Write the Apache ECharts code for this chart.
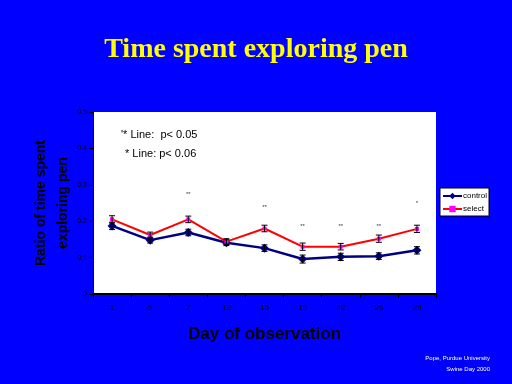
<!DOCTYPE html>
<html><head><meta charset="utf-8">
<script src="https://cdn.jsdelivr.net/npm/echarts@6/dist/echarts.min.js"></script>
<style>html,body{margin:0;padding:0;background:#0000FF;}#c{width:512px;height:384px;}</style>
</head><body><div id="c"></div>
<script>
var days = ['1','5','7','12','15','19','22','25','29'];
var yTicks = [0, 0.1, 0.2, 0.3, 0.4, 0.5];
var control = [0.187, 0.148, 0.169, 0.141, 0.126, 0.096, 0.102, 0.104, 0.120];
var controlErr = [0.010, 0.008, 0.009, 0.008, 0.009, 0.011, 0.010, 0.009, 0.010];
var select = [0.205, 0.162, 0.205, 0.144, 0.180, 0.130, 0.130, 0.152, 0.179];
var selectErr = [0.010, 0.008, 0.009, 0.008, 0.009, 0.010, 0.009, 0.010, 0.010];
var sigMarks = [[2, 0.275, '**'], [4, 0.239, '**'], [5, 0.187, '**'], [6, 0.187, '**'], [7, 0.187, '**'], [8, 0.25, '*']];

function errData(vals, errs) {
  return vals.map(function (v, i) { return [i, v - errs[i], v + errs[i]]; });
}
function errRender(params, api) {
  var x = api.value(0);
  var lo = api.coord([x, api.value(1)]);
  var hi = api.coord([x, api.value(2)]);
  var w = 3;
  var st = { stroke: '#000', lineWidth: 1 };
  return { type: 'group', children: [
    { type: 'line', shape: { x1: hi[0], y1: hi[1], x2: lo[0], y2: lo[1] }, style: st },
    { type: 'line', shape: { x1: hi[0] - w, y1: hi[1], x2: hi[0] + w, y2: hi[1] }, style: st },
    { type: 'line', shape: { x1: lo[0] - w, y1: lo[1], x2: lo[0] + w, y2: lo[1] }, style: st }
  ]};
}

var chart = echarts.init(document.getElementById('c'));
chart.setOption({
  backgroundColor: '#0000FF',
  animation: false,
  title: {
    text: 'Time spent exploring pen', left: 'center', top: 31,
    textStyle: { color: '#FFFF00', fontFamily: 'Liberation Serif', fontWeight: 'bold', fontSize: 28 }
  },
  grid: { left: 93, right: 76, top: 112, bottom: 90, backgroundColor: '#FFFFFF', show: true, borderWidth: 0 },
  legend: {
    right: 23, top: 188, orient: 'vertical', backgroundColor: '#FFFFFF', borderColor: '#000', borderWidth: 1,
    padding: [4, 2, 3, 2], itemGap: 5, itemWidth: 19, itemHeight: 8,
    textStyle: { fontFamily: 'Liberation Sans', fontSize: 8, color: '#000', padding: [0, 0, 0, -4] },
    data: ['control', 'select']
  },
  xAxis: {
    type: 'category', data: days, boundaryGap: true,
    name: 'Day of observation', nameLocation: 'middle', nameGap: 32,
    nameTextStyle: { fontFamily: 'Liberation Sans', fontSize: 17, color: '#000', fontWeight: 'bold' },
    axisLine: { lineStyle: { color: '#000', width: 2 } },
    axisTick: { show: true, length: 4, lineStyle: { color: '#000' }, alignWithLabel: false },
    axisLabel: { fontFamily: 'Liberation Sans', fontSize: 8, color: '#000', margin: 10 }
  },
  yAxis: {
    type: 'value', min: yTicks[0], max: yTicks[yTicks.length - 1], interval: 0.1,
    name: 'Ratio of time spent\nexploring pen', nameLocation: 'middle', nameGap: 19, nameRotate: 90,
    nameMoveOverlap: false,
    nameTextStyle: { fontFamily: 'Liberation Sans', fontSize: 14, color: '#000', fontWeight: 'bold', lineHeight: 22 },
    axisLine: { show: true, lineStyle: { color: '#000', width: 1 } },
    axisTick: { show: true, length: 4, lineStyle: { color: '#000' } },
    splitLine: { show: false },
    axisLabel: { fontFamily: 'Liberation Sans', fontSize: 7, color: '#000', margin: 6,
      formatter: function (v) { return v === 0 ? '0' : v.toFixed(1); } }
  },
  graphic: [
    { type: 'text', left: 121, top: 129, style: { text: '\'* Line:  p< 0.05', fontFamily: 'Liberation Sans', fontSize: 11, fill: '#000' } },
    { type: 'text', left: 125, top: 148, style: { text: '* Line: p< 0.06', fontFamily: 'Liberation Sans', fontSize: 11, fill: '#000' } },
    { type: 'text', right: 22, top: 355, style: { text: 'Pope, Purdue University', fontFamily: 'Liberation Sans', fontSize: 6, fill: '#FFF', align: 'right' } },
    { type: 'text', right: 22, top: 366, style: { text: 'Swine Day 2000', fontFamily: 'Liberation Sans', fontSize: 6, fill: '#FFF', align: 'right' } }
  ],
  series: [
    { name: 'control', type: 'line', data: control, color: '#000080', symbol: 'diamond', symbolSize: 9,
      lineStyle: { width: 2.5, color: '#000080' }, itemStyle: { color: '#000080' }, z: 3 },
    { name: 'select', type: 'line', data: select, color: '#FF0000', symbol: 'rect', symbolSize: 4,
      lineStyle: { width: 2, color: '#FF0000' }, itemStyle: { color: '#FF00FF' }, z: 4 },
    { type: 'custom', data: errData(control, controlErr), renderItem: errRender, z: 5, silent: true },
    { type: 'custom', data: errData(select, selectErr), renderItem: errRender, z: 5, silent: true },
    { type: 'scatter', symbolSize: 0, data: sigMarks.map(function (m) { return { value: [m[0], m[1]], name: m[2] }; }),
      label: { show: true, position: 'inside', formatter: '{b}', fontSize: 6, color: '#000', fontFamily: 'Liberation Sans' }, silent: true }
  ]
});
</script></body></html>
